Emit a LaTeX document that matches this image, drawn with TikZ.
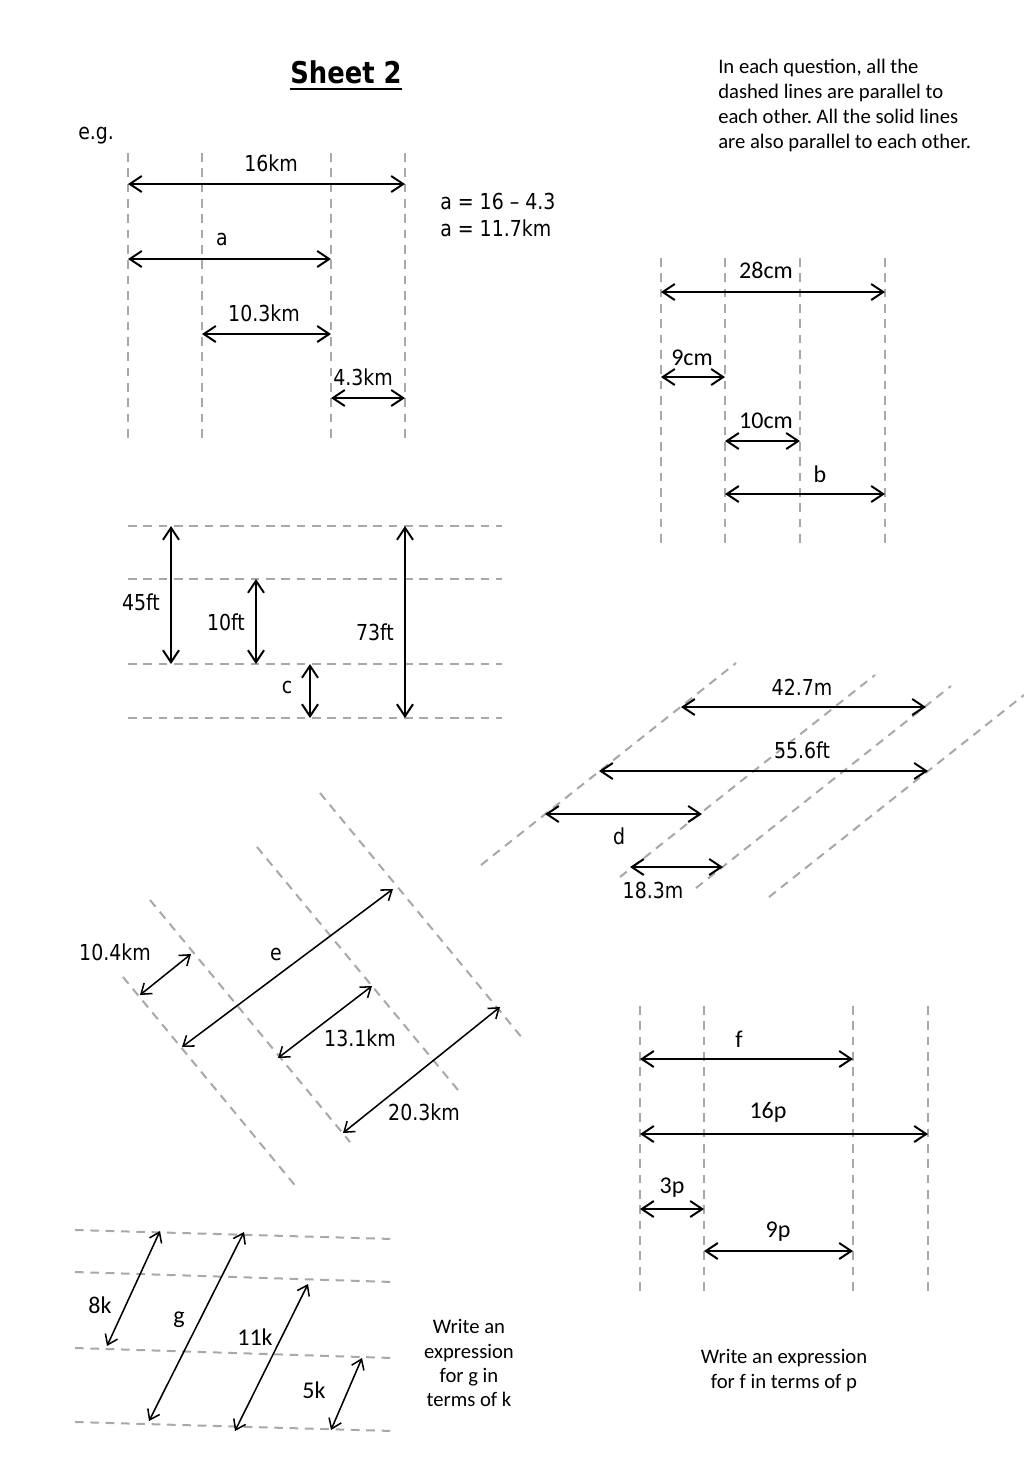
\documentclass[tikz,border=0pt]{standalone}
\usepackage{fontspec}
\setmainfont{Carlito}
\newfontfamily\tah[FakeStretch=0.86]{DejaVu Sans}
\usetikzlibrary{arrows.meta}
\definecolor{dashgray}{RGB}{168,168,168}
\frenchspacing
\tikzset{
  dl/.style={draw=dashgray, line width=1.5pt, dash pattern=on 6.5pt off 5pt},
  dim/.style={line width=1.5pt, {Straight Barb[length=9pt,width=12pt]}-{Straight Barb[length=9pt,width=12pt]}},
  dimt/.style={line width=1.15pt, {Straight Barb[length=7pt,width=10pt]}-{Straight Barb[length=7pt,width=10pt]}},
  tl/.style={font=\tah\fontsize{16.5}{19}\selectfont, anchor=base, inner sep=0pt},
  cl/.style={font=\fontsize{18}{21}\selectfont, anchor=base, inner sep=0pt},
  ctx/.style={font=\fontsize{15.5}{18.75}\selectfont, anchor=base, inner sep=0pt},
}
\begin{document}
\begin{tikzpicture}[x=0.75pt,y=-0.75pt]
\useasboundingbox[fill=white] (0,0) rectangle (1024,1479);

% ---------- title and notes ----------
\node[font=\tah\bfseries\fontsize{22.5}{26}\selectfont, anchor=base, inner sep=0pt] (title) at (346,83) {Sheet 2};
\draw[line width=1.5pt] ([yshift=-4.2pt]title.base west) -- ([yshift=-4.2pt]title.base east);
\node[ctx, anchor=base west] (n1) at (718,73) {In each question, all the};
\node[ctx, anchor=base west] (n2) at (718,98) {dashed lines are parallel to};
\node[ctx, anchor=base west] (n3) at (718,123) {each other. All the solid lines};
\node[ctx, anchor=base west] (n4) at (718,148) {are also parallel to each other.};
\node[tl, anchor=base west] (eg) at (78,139) {e.g.};

% ---------- example ----------
\foreach \x in {128,202,331,405} \draw[dl] (\x,153) -- (\x,440);
\coordinate (e1l) at (128,184); \coordinate (e1r) at (405,184);
\coordinate (e2l) at (128,259); \coordinate (e2r) at (331,259);
\coordinate (e3l) at (202,334); \coordinate (e3r) at (331,334);
\coordinate (e4l) at (331,398); \coordinate (e4r) at (405,398);
\draw[dim] (e1l) -- (e1r);
\draw[dim] (e2l) -- (e2r);
\draw[dim] (e3l) -- (e3r);
\draw[dim] (e4l) -- (e4r);
\node[tl] (l16km) at (271,171) {16km};
\node[tl] (la) at (222,245) {a};
\node[tl] (l103) at (264,321) {10.3km};
\node[tl] (l43) at (363,385) {4.3km};
\node[tl, anchor=base west] (s1) at (440,209) {a = 16 – 4.3};
\node[tl, anchor=base west] (s2) at (440,236) {a = 11.7km};

% ---------- b ----------
\foreach \x in {661,725,800,885} \draw[dl] (\x,258) -- (\x,548);
\coordinate (b1l) at (661,292); \coordinate (b1r) at (885,292);
\coordinate (b2l) at (661,377); \coordinate (b2r) at (725,377);
\coordinate (b3l) at (725,441); \coordinate (b3r) at (800,441);
\coordinate (b4l) at (725,494); \coordinate (b4r) at (885,494);
\draw[dim] (b1l) -- (b1r);
\draw[dim] (b2l) -- (b2r);
\draw[dim] (b3l) -- (b3r);
\draw[dim] (b4l) -- (b4r);
\node[cl] (l28) at (766,278) {28cm};
\node[cl] (l9) at (692,365) {9cm};
\node[cl] (l10) at (766,428) {10cm};
\node[cl] (lb) at (820,482) {b};

% ---------- c ----------
\foreach \y in {526,579,664,718} \draw[dl] (128,\y) -- (502,\y);
\coordinate (c1t) at (171,526); \coordinate (c1b) at (171,664);
\coordinate (c2t) at (256,579); \coordinate (c2b) at (256,664);
\coordinate (c3t) at (310,664); \coordinate (c3b) at (310,718);
\coordinate (c4t) at (405,526); \coordinate (c4b) at (405,718);
\draw[dim] (c1t) -- (c1b);
\draw[dim] (c2t) -- (c2b);
\draw[dim] (c3t) -- (c3b);
\draw[dim] (c4t) -- (c4b);
\node[tl] (l45) at (141,610) {45ft};
\node[tl] (l10ft) at (226,630) {10ft};
\node[tl] (lc) at (287,693) {c};
\node[tl] (l73) at (375,640) {73ft};

% ---------- d ----------
\draw[dl] (481,865) -- (736,663);
\draw[dl] (620,877) -- (875,675);
\draw[dl] (696,888) -- (951,686);
\draw[dl] (769,897) -- (1024,695);
\coordinate (d1l) at (681,707); \coordinate (d1r) at (926,707);
\coordinate (d2l) at (599,771); \coordinate (d2r) at (928,771);
\coordinate (d3l) at (545,814); \coordinate (d3r) at (702,814);
\coordinate (d4l) at (630,867); \coordinate (d4r) at (723,867);
\draw[dim] (d1l) -- (d1r);
\draw[dim] (d2l) -- (d2r);
\draw[dim] (d3l) -- (d3r);
\draw[dim] (d4l) -- (d4r);
\node[tl] (l427) at (802,695) {42.7m};
\node[tl] (l556) at (802,758) {55.6ft};
\node[tl] (ld) at (619,844) {d};
\node[tl] (l183) at (653,898) {18.3m};

% ---------- e ----------
\draw[dl] (123,977) -- (298,1189);
\draw[dl] (150,900) -- (350,1142);
\draw[dl] (257,847) -- (458,1090);
\draw[dl] (320,793) -- (523,1039);
\coordinate (f1a) at (140,995); \coordinate (f1b) at (191,954);
\coordinate (f2a) at (182,1047); \coordinate (f2b) at (393,889);
\coordinate (f3a) at (278,1058); \coordinate (f3b) at (372,986);
\coordinate (f4a) at (343,1133); \coordinate (f4b) at (500,1007);
\draw[dimt] (f1a) -- (f1b);
\draw[dimt] (f2a) -- (f2b);
\draw[dimt] (f3a) -- (f3b);
\draw[dimt] (f4a) -- (f4b);
\node[tl] (l104) at (115,960) {10.4km};
\node[tl] (le) at (276,960) {e};
\node[tl] (l131) at (360,1046) {13.1km};
\node[tl] (l203) at (424,1120) {20.3km};

% ---------- f ----------
\foreach \x in {640,704,853,928} \draw[dl] (\x,1006) -- (\x,1294);
\coordinate (g1l) at (640,1059); \coordinate (g1r) at (853,1059);
\coordinate (g2l) at (640,1134); \coordinate (g2r) at (928,1134);
\coordinate (g3l) at (640,1209); \coordinate (g3r) at (704,1209);
\coordinate (g4l) at (704,1251); \coordinate (g4r) at (853,1251);
\draw[dim] (g1l) -- (g1r);
\draw[dim] (g2l) -- (g2r);
\draw[dim] (g3l) -- (g3r);
\draw[dim] (g4l) -- (g4r);
\node[cl] (lf) at (739,1047) {f};
\node[cl] (l16p) at (768,1118) {16p};
\node[cl] (l3p) at (672,1193) {3p};
\node[cl] (l9p) at (778,1237) {9p};
\node[ctx] (wf1) at (784,1363) {Write an expression};
\node[ctx] (wf2) at (784,1388) {for f in terms of p};

% ---------- g ----------
\draw[dl] (75,1230) -- (393,1239);
\draw[dl] (75,1272) -- (393,1282);
\draw[dl] (75,1348) -- (393,1358);
\draw[dl] (75,1422) -- (393,1431);
\coordinate (h1a) at (107,1346); \coordinate (h1b) at (160,1231);
\coordinate (h2a) at (149,1421); \coordinate (h2b) at (244,1232);
\coordinate (h3a) at (235,1431); \coordinate (h3b) at (308,1284);
\coordinate (h4a) at (331,1430); \coordinate (h4b) at (362,1358);
\draw[dimt] (h1a) -- (h1b);
\draw[dimt] (h2a) -- (h2b);
\draw[dimt] (h3a) -- (h3b);
\draw[dimt] (h4a) -- (h4b);
\node[cl] (l8k) at (100,1313) {8k};
\node[cl] (lg) at (179,1323) {g};
\node[cl] (l11k) at (255,1345) {11k};
\node[cl] (l5k) at (314,1398) {5k};
\node[ctx] (wg1) at (469,1333) {Write an};
\node[ctx] (wg2) at (469,1358) {expression};
\node[ctx] (wg3) at (469,1382) {for g in};
\node[ctx] (wg4) at (469,1406) {terms of k};
\end{tikzpicture}
\end{document}
